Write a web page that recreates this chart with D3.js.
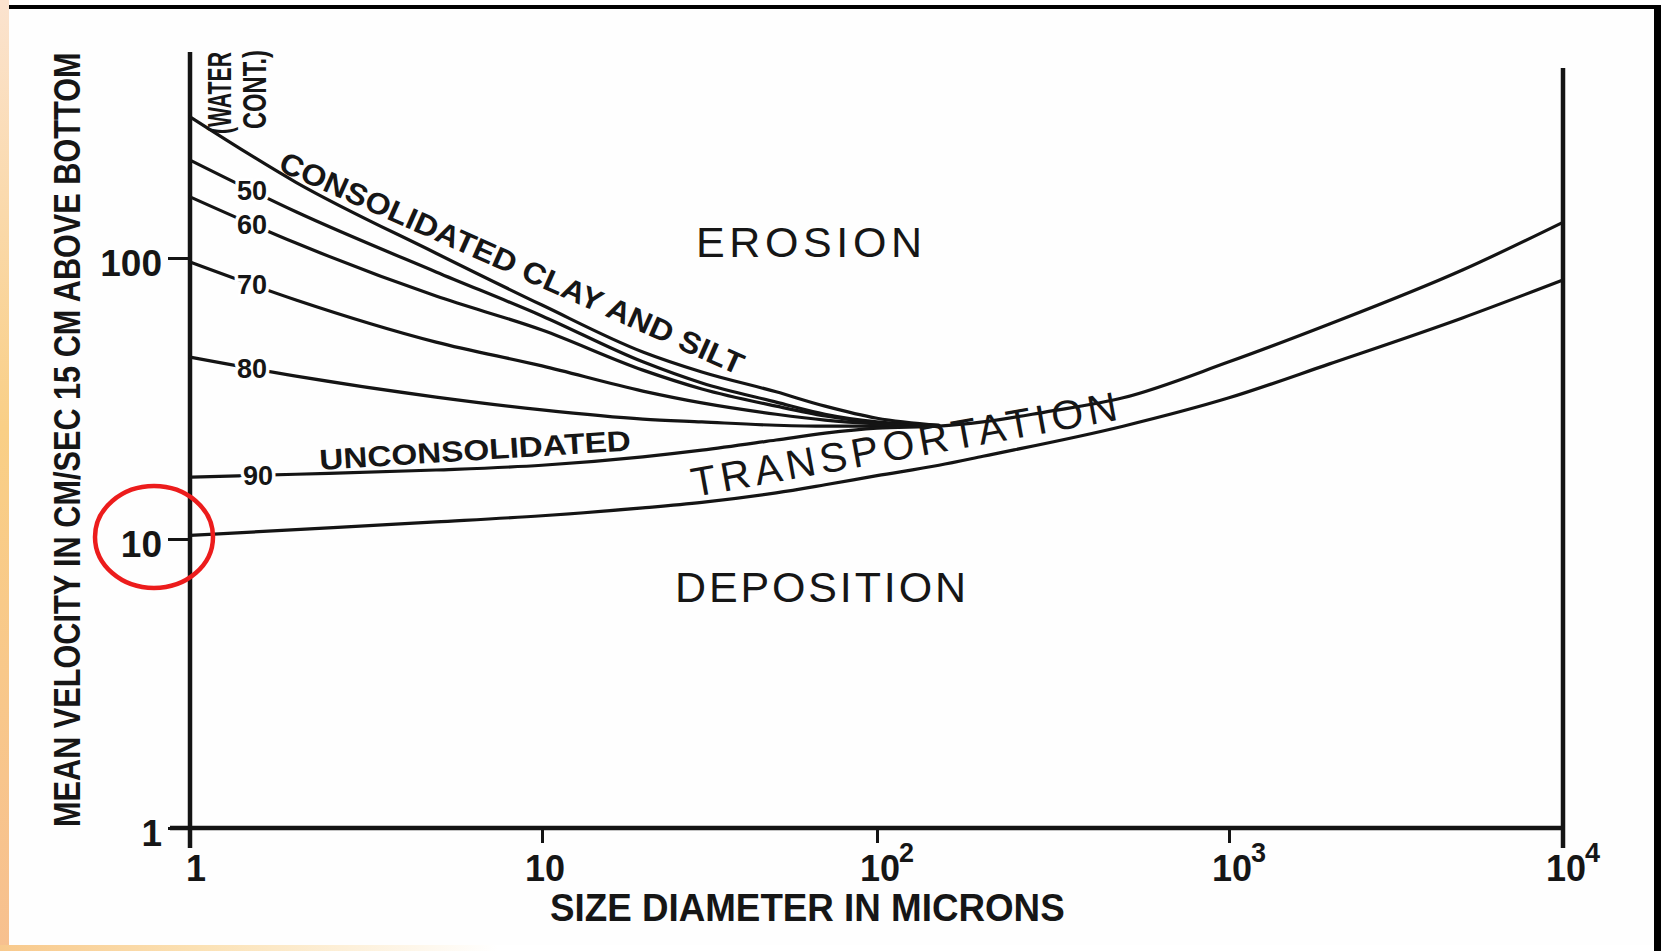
<!DOCTYPE html>
<html>
<head>
<meta charset="utf-8">
<script src="https://cdn.jsdelivr.net/npm/d3@7"></script>
<style>
  html, body { margin: 0; padding: 0; background: #fff; }
  svg { display: block; }
  text { font-family: "Liberation Sans", Arial, Helvetica, sans-serif; fill: #161616; }
</style>
</head>
<body>
<svg id="chart" width="1661" height="951"></svg>
<script>
// Grain sizes (microns) at which the curves are sampled
const sizesFine = [1, 2, 5, 10, 20, 30, 50, 70, 100, 150];
const sizesCoarse = [150, 200, 300, 500, 1000, 2000, 5000, 10000];
const sizesDeposition = [1, 2, 5, 10, 20, 30, 50, 70, 100, 150, 200, 500, 1000, 2000, 5000, 10000];

// Erosion velocity (cm/s) of consolidated clay and silt, by water content (%)
const erosion40 = [318, 186, 104, 68.0, 46.3, 39.3, 33.4, 29.7, 26.9, 25.4];
const erosion50 = [223, 146, 89.2, 62.2, 42.7, 35.9, 30.7, 27.8, 26.1, 25.4];
const erosion60 = [165, 113, 73.2, 55.4, 39.9, 34.2, 29.7, 27.4, 25.9, 25.2];
const erosion70 = [96.8, 70.9, 50.2, 41.3, 33.6, 30.5, 27.8, 26.5, 25.7, 25.2];
const erosion80 = [44.4, 38.0, 32.0, 28.8, 26.7, 26.1, 25.4, 25.2, 25.2, 25.2];
const erosion90 = [16.6, 17.0, 17.6, 18.3, 19.6, 20.7, 22.5, 23.8, 24.8, 25.2];
const waterLabels = ["50", "60", "70", "80", "90"];

// Erosion velocity for coarser grains (single curve)
const erosionCoarse = [25.2, 26.1, 28.3, 31.8, 42.7, 58.2, 90.6, 134];

// Velocity below which grains are deposited
const deposition = [10.3, 10.8, 11.5, 12.1, 12.9, 13.5, 14.6, 15.6, 16.8, 18.3, 19.7, 25.2, 31.8, 42.0, 61.2, 83.5];

// Axis ticks
const xTickValues = [1, 10, 100, 1000, 10000];
const xTickBase = ["1", "10", "10", "10", "10"];
const xTickExp = ["", "", "2", "3", "4"];
const yTickValues = [1, 10, 100];

const svg = d3.select("#chart");
const ink = "#141414";

// Hand-drawn log decades are not perfectly even, so the scales are piecewise
const x = d3.scaleLog().domain([1, 10, 100, 1000, 10000]).range([190, 542, 877, 1229, 1563]);
const y = d3.scaleLog().domain([1, 10, 100, 1000]).range([828, 539, 258, -23]);

// Condensed lettering: squeeze a text along its baseline to a given length
function fitted(parent, str, size, weight, px, py, angle, length) {
  const t = parent.append("text")
    .attr("font-size", size).attr("font-weight", weight).text(str);
  const k = length / t.node().getComputedTextLength();
  t.attr("transform", `translate(${px},${py}) rotate(${angle}) scale(${k},1)`);
  return t;
}

// ---- page frame -------------------------------------------------------
const defs = svg.append("defs");
const gLeft = defs.append("linearGradient").attr("id", "edgeLeft")
  .attr("x1", 0).attr("y1", 0).attr("x2", 0).attr("y2", 1);
gLeft.append("stop").attr("offset", "0%").attr("stop-color", "#fbe3cf");
gLeft.append("stop").attr("offset", "45%").attr("stop-color", "#f9cf86");
gLeft.append("stop").attr("offset", "100%").attr("stop-color", "#f7c08f");
const gBottom = defs.append("linearGradient").attr("id", "edgeBottom")
  .attr("x1", 0).attr("y1", 0).attr("x2", 1).attr("y2", 0);
gBottom.append("stop").attr("offset", "0%").attr("stop-color", "#f8c98c");
gBottom.append("stop").attr("offset", "12%").attr("stop-color", "#fbe1b4");
gBottom.append("stop").attr("offset", "30%").attr("stop-color", "#ffffff");

svg.append("rect").attr("width", 1661).attr("height", 951).attr("fill", "#fefefe");
svg.append("rect").attr("x", 0).attr("y", 0).attr("width", 9).attr("height", 951).attr("fill", "url(#edgeLeft)");
svg.append("rect").attr("x", 0).attr("y", 945).attr("width", 1661).attr("height", 6).attr("fill", "url(#edgeBottom)");
svg.append("rect").attr("x", 9).attr("y", 5).attr("width", 1652).attr("height", 4).attr("fill", "#000");
svg.append("rect").attr("x", 1654).attr("y", 5).attr("width", 7).attr("height", 946).attr("fill", "#000");

// ---- axes ---------------------------------------------------------------
const axisW = 4.5;
const yAxisTop = 52, rightAxisTop = 68, overhang = 20;

const yAxis = svg.append("g")
  .attr("transform", `translate(${x(1)},0)`)
  .call(d3.axisLeft(y).tickValues(yTickValues).tickSize(22).tickPadding(6).tickFormat(d3.format("d")));
yAxis.select(".domain").remove();
yAxis.selectAll(".tick line").attr("stroke", ink).attr("stroke-width", 3);
yAxis.selectAll(".tick text")
  .attr("fill", ink).attr("font-size", 37).attr("font-weight", "bold")
  .attr("font-family", "Liberation Sans, Arial, sans-serif").attr("dy", "0.46em");

const xAxis = svg.append("g")
  .attr("transform", `translate(0,${y(1)})`)
  .call(d3.axisBottom(x).tickValues(xTickValues.slice(1, 4)).tickSize(15).tickFormat(() => ""));
xAxis.select(".domain").remove();
xAxis.selectAll(".tick line").attr("stroke", ink).attr("stroke-width", 3);

// axis lines
svg.append("line").attr("x1", x(1)).attr("x2", x(1)).attr("y1", yAxisTop).attr("y2", y(1) + overhang)
  .attr("stroke", ink).attr("stroke-width", axisW);
svg.append("line").attr("x1", x(10000)).attr("x2", x(10000)).attr("y1", rightAxisTop).attr("y2", y(1) + overhang)
  .attr("stroke", ink).attr("stroke-width", axisW);
svg.append("line").attr("x1", x(1) - 20).attr("x2", x(10000)).attr("y1", y(1)).attr("y2", y(1))
  .attr("stroke", ink).attr("stroke-width", axisW);

// x tick labels: 1, 10, 10², 10³, 10⁴
xTickValues.forEach((v, i) => {
  const cx = x(v) + (i === 0 ? 6 : 3);
  svg.append("text").attr("x", cx).attr("y", 881).attr("text-anchor", "middle")
    .attr("font-size", 36).attr("font-weight", "bold").text(xTickBase[i]);
  if (xTickExp[i]) {
    svg.append("text").attr("x", cx + 19).attr("y", 862)
      .attr("font-size", 27).attr("font-weight", "bold").text(xTickExp[i]);
  }
});

// axis titles
fitted(svg, "MEAN VELOCITY IN CM/SEC  15 CM ABOVE BOTTOM", 37, "bold", 80, 827, -90, 775);
fitted(svg, "SIZE DIAMETER IN MICRONS", 38, "bold", 550, 921, 0, 515);

// water content heading
fitted(svg, "(WATER", 34, "bold", 231, 134, -90, 82);
fitted(svg, "CONT.)", 34, "bold", 266, 129, -90, 79);

// ---- curves -------------------------------------------------------------
const line = d3.line()
  .x(d => x(d.size)).y(d => y(d.v))
  .curve(d3.curveMonotoneX);
const toPoints = (sizes, vals) => sizes.map((s, i) => ({ size: s, v: vals[i] }));

const cohesive = [erosion40, erosion50, erosion60, erosion70, erosion80];
const curves = svg.append("g").attr("fill", "none").attr("stroke", ink)
  .attr("stroke-width", 3.2).attr("stroke-linejoin", "round").attr("stroke-linecap", "round");

cohesive.forEach(vals => curves.append("path").attr("d", line(toPoints(sizesFine, vals))));

const upper = toPoints(sizesFine, erosion90).concat(toPoints(sizesCoarse, erosionCoarse).slice(1));
curves.append("path").attr("d", line(upper));
curves.append("path").attr("d", line(toPoints(sizesDeposition, deposition)));

// water content labels sit on their curves, a little right of the axis
const labelSize = 1.5;
const t = Math.log(labelSize) / Math.log(sizesFine[1] / sizesFine[0]);
[erosion50, erosion60, erosion70, erosion80, erosion90].forEach((vals, i) => {
  const lv = Math.log10(vals[0]) + t * (Math.log10(vals[1]) - Math.log10(vals[0]));
  svg.append("text")
    .attr("x", x(labelSize) + (i === 4 ? 6 : 0)).attr("y", y(Math.pow(10, lv)))
    .attr("dy", "0.36em").attr("text-anchor", "middle")
    .attr("font-size", 27).attr("font-weight", "bold")
    .attr("stroke", "#fff").attr("stroke-width", 7).attr("paint-order", "stroke")
    .text(waterLabels[i]);
});

// ---- region and curve labels -------------------------------------------
svg.append("text").attr("x", 696).attr("y", 257)
  .attr("font-size", 43).attr("textLength", 226).attr("lengthAdjust", "spacing")
  .text("EROSION");
svg.append("text").attr("x", 675).attr("y", 602)
  .attr("font-size", 43).attr("textLength", 291).attr("lengthAdjust", "spacing")
  .text("DEPOSITION");
svg.append("text").attr("transform", "translate(694,497) rotate(-10.3)")
  .attr("font-size", 41).attr("textLength", 432).attr("lengthAdjust", "spacing")
  .text("TRANSPORTATION");
fitted(svg, "CONSOLIDATED CLAY AND SILT", 30, "bold", 277, 170, 24, 505);
fitted(svg, "UNCONSOLIDATED", 29, "bold", 320, 470, -3.6, 312);

// ---- highlight around the 10 cm/s tick ----------------------------------
svg.append("ellipse")
  .attr("cx", x(1) - 36).attr("cy", y(10) - 2).attr("rx", 59).attr("ry", 51)
  .attr("fill", "none").attr("stroke", "#ec1c1c").attr("stroke-width", 4.5);
</script>
</body>
</html>
